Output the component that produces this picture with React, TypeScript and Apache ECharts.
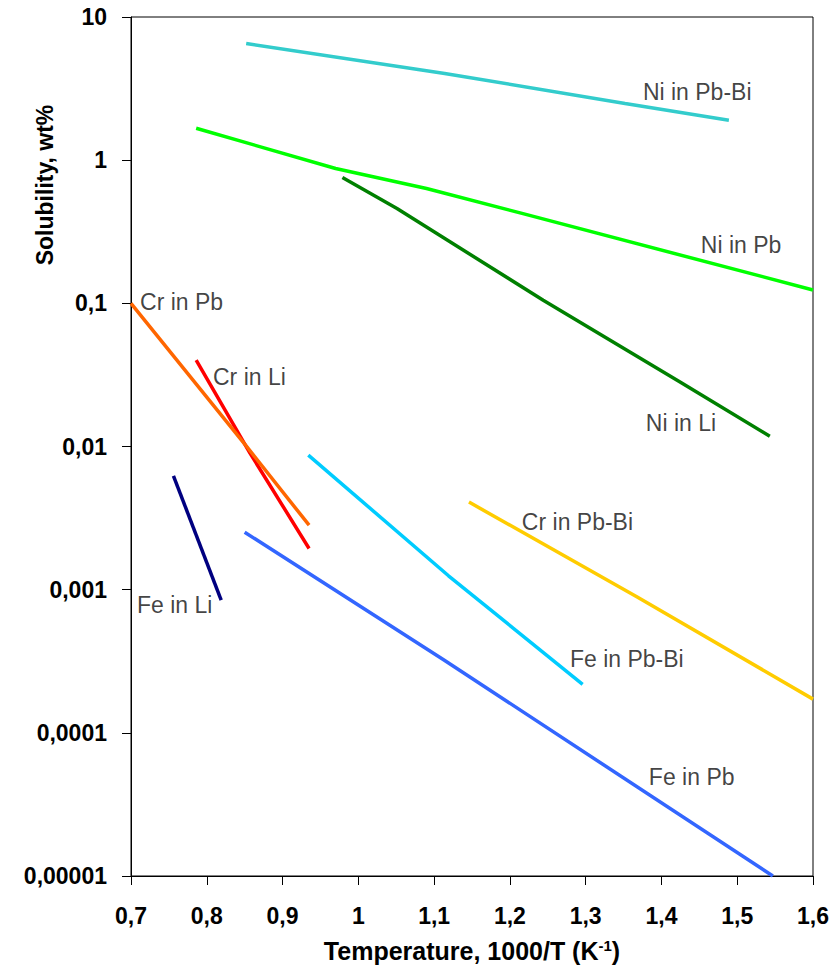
import React, { useEffect, useRef } from "react";
import * as echarts from "echarts";

const FONT = '"Liberation Sans", Arial, sans-serif';

const xTickLabels = ["0,7", "0,8", "0,9", "1", "1,1", "1,2", "1,3", "1,4", "1,5", "1,6"];
const yTickLabels = ["0,00001", "0,0001", "0,001", "0,01", "0,1", "1", "10"];

// Series (x = 1000/T, y = solubility wt%)
const niPbBiX = [0.852, 1.114, 1.352, 1.489];
const niPbBiY = [6.53, 4.03, 2.49, 1.9];
const niPbX = [0.786, 0.97, 1.09, 1.216, 1.6];
const niPbY = [1.67, 0.875, 0.634, 0.425, 0.124];
const niLiX = [0.979, 1.051, 1.244, 1.424, 1.543];
const niLiY = [0.757, 0.46, 0.105, 0.0283, 0.0118];
const crLiX = [0.786, 0.857, 0.935];
const crLiY = [0.0401, 0.009, 0.00194];
const crPbX = [0.7, 0.853, 0.935];
const crPbY = [0.1, 0.00995, 0.00282];
const feLiX = [0.756, 0.819];
const feLiY = [0.00624, 0.000846];
const fePbBiX = [0.934, 1.119, 1.296];
const fePbBiY = [0.00871, 0.00125, 0.000218];
const crPbBiX = [1.146, 1.368, 1.6];
const crPbBiY = [0.00409, 0.00089, 0.000172];
const fePbX = [0.85, 1.113, 1.547];
const fePbY = [0.00252, 0.000323, 0.00001];

const seriesNames = [
  "Ni in Pb-Bi", "Ni in Pb", "Ni in Li", "Cr in Li", "Cr in Pb",
  "Fe in Li", "Fe in Pb-Bi", "Cr in Pb-Bi", "Fe in Pb",
];
const seriesColors = [
  "#33CCCC", "#00FF00", "#008000", "#FF0000", "#FF6600",
  "#000080", "#00CCFF", "#FFCC00", "#3366FF",
];
const seriesX = [niPbBiX, niPbX, niLiX, crLiX, crPbX, feLiX, fePbBiX, crPbBiX, fePbX];
const seriesY = [niPbBiY, niPbY, niLiY, crLiY, crPbY, feLiY, fePbBiY, crPbBiY, fePbY];

// Label anchors (left edge, vertical middle)
const labelNames = [
  "Ni in Pb-Bi", "Ni in Pb", "Ni in Li", "Cr in Pb", "Cr in Li",
  "Fe in Li", "Cr in Pb-Bi", "Fe in Pb-Bi", "Fe in Pb",
];
const labelX = [1.3755, 1.452, 1.3794, 0.7119, 0.8082, 0.7079, 1.2158, 1.2792, 1.3834];
const labelY = [2.985, 0.255, 0.01457, 0.102, 0.0305, 0.00078, 0.002965, 0.000327, 0.0000491];

export default function App() {
  const ref = useRef<HTMLDivElement>(null);
  useEffect(() => {
    document.body.style.margin = "0";
    const chart = echarts.init(ref.current!, null, { renderer: "svg" });
    const lineSeries = seriesNames.map((name, i) => ({
      name,
      type: "line",
      data: seriesX[i].map((x, j) => [x, seriesY[i][j]]),
      showSymbol: false,
      symbol: "none",
      lineStyle: { color: seriesColors[i], width: 3.5 },
      itemStyle: { color: seriesColors[i] },
      z: 2 + i,
    }));
    const labelSeries = {
      type: "scatter",
      symbolSize: 0,
      z: 20,
      data: labelNames.map((n, i) => ({ name: n, value: [labelX[i], labelY[i]] })),
      label: {
        show: true,
        position: "right",
        distance: 0,
        formatter: (p: any) => p.name,
        color: "#111111",
        fontFamily: FONT,
        fontSize: 23,
      },
      silent: true,
    };
    chart.setOption({
      animation: false,
      backgroundColor: "#ffffff",
      grid: {
        left: 131,
        top: 17,
        right: 22,
        bottom: 92,
        show: true,
        borderColor: "#000",
        borderWidth: 1,
        backgroundColor: "transparent",
      },
      xAxis: {
        type: "value",
        min: 0.7,
        max: 1.6,
        interval: 0.1,
        name: "Temperature, 1000/T (K{sup|-1})",
        nameLocation: "middle",
        nameGap: 62,
        nameTextStyle: {
          fontFamily: FONT,
          fontSize: 25,
          fontWeight: "bold",
          color: "#000",
          rich: {
            sup: {
              fontFamily: FONT,
              fontSize: 15,
              fontWeight: "bold",
              color: "#000",
              verticalAlign: "top",
              lineHeight: 14,
            },
          },
        },
        axisLine: { lineStyle: { color: "#000", width: 1 } },
        axisTick: { show: true, inside: false, length: 9, lineStyle: { color: "#000" } },
        splitLine: { show: false },
        axisLabel: {
          margin: 28,
          fontFamily: FONT,
          fontSize: 23,
          fontWeight: "bold",
          color: "#000",
          formatter: (v: number) => xTickLabels[Math.round((v - 0.7) * 10)] ?? "",
        },
      },
      yAxis: {
        type: "log",
        logBase: 10,
        min: 0.00001,
        max: 10,
        splitNumber: 6,
        axisLine: { show: true, lineStyle: { color: "#000", width: 1 } },
        axisTick: { show: true, inside: false, length: 9, lineStyle: { color: "#000" } },
        splitLine: { show: false },
        minorTick: { show: false },
        axisLabel: {
          margin: 24,
          fontFamily: FONT,
          fontSize: 23,
          fontWeight: "bold",
          color: "#000",
          formatter: (v: number) => yTickLabels[Math.round(Math.log10(v)) + 5] ?? "",
        },
      },
      graphic: [
        {
          type: "text",
          x: 45,
          y: 185,
          rotation: Math.PI / 2,
          style: {
            text: "Solubility, wt%",
            align: "center",
            verticalAlign: "middle",
            fontFamily: FONT,
            fontSize: 23,
            fontWeight: "bold",
            fill: "#000",
          },
        },
      ],
      series: [...lineSeries, labelSeries],
    });
    return () => chart.dispose();
  }, []);
  return <div ref={ref} style={{ width: 835, height: 968 }} />;
}
